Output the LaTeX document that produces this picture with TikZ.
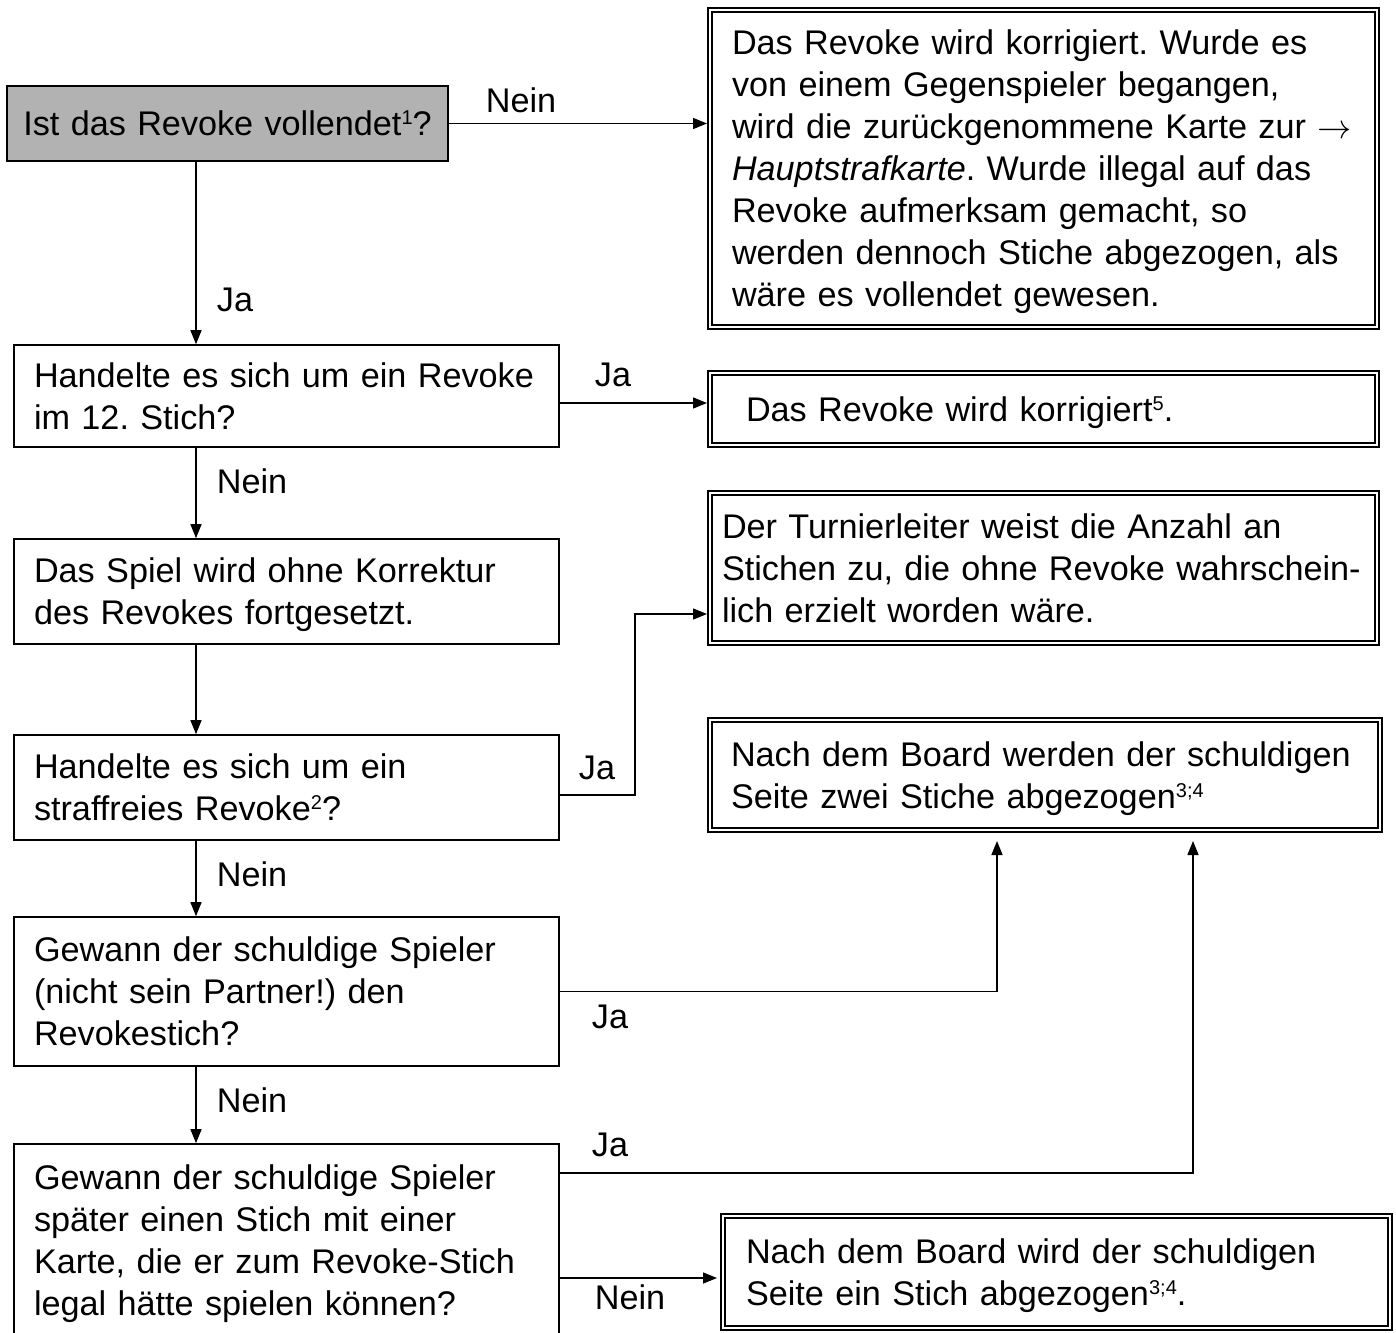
\RequirePackage{fix-cm}
\documentclass[tikz,border=0pt]{standalone}
\usepackage{fontspec}
\setmainfont{Liberation Sans}
\usepackage{tikz}
\usetikzlibrary{arrows.meta,positioning,calc}

\frenchspacing
\newcommand{\hoch}[1]{\raisebox{11pt}{\fontsize{20}{20}\selectfont #1}}
\newcommand{\zeile}{\rule[-8.6pt]{0pt}{42pt}}

\begin{document}
\begin{tikzpicture}[
    x=1pt, y=-1pt,
    every node/.style={font=\fontsize{34.2}{42}\selectfont},
    frage/.style={
        draw,
        line width=1.6pt,
        align=left,
        inner xsep=20pt,
        inner ysep=0pt,
        text width=505pt,
        minimum width=545pt,
        execute at begin node=\zeile,
        execute at end node=\zeile
    },
    ergebnis/.style={
        draw,
        double,
        double distance=2.5pt,
        line width=1.8pt,
        outer sep=3pt,
        align=left,
        inner ysep=0pt,
        minimum width=667pt,
        execute at begin node=\zeile,
        execute at end node=\zeile
    },
    pfeil/.style={-{Triangle[length=14pt,width=11pt]}, line width=1.4pt},
    marke/.style={inner sep=0pt}
]
\useasboundingbox (0,0) rectangle (1396,1332);

% -------- Fragen (links) --------
\node[frage, fill=black!30, align=center, minimum width=441pt, text width=421pt,
      inner xsep=10pt, minimum height=75pt] (vollendet) at (227.5,123.5)
    {Ist das Revoke vollendet\hoch{1}?};
\node[frage, minimum height=102pt] (zwoelf) at (286.5,396)
    {Handelte es sich um ein Revoke\\im 12. Stich?};
\node[frage, minimum height=105pt] (weiter) at (286.5,591.5)
    {Das Spiel wird ohne Korrektur\\des Revokes fortgesetzt.};
\node[frage, minimum height=105pt] (straffrei) at (286.5,787.5)
    {Handelte es sich um ein\\straffreies Revoke\hoch{2}?};
\node[frage, minimum height=149pt] (gewann) at (286.5,991.5)
    {Gewann der schuldige Spieler\\(nicht sein Partner!) den\\Revokestich?};
\node[frage, minimum height=193pt] (spaeter) at (286.5,1240.5)
    {Gewann der schuldige Spieler\\sp\"ater einen Stich mit einer\\Karte, die er zum Revoke-Stich\\legal h\"atte spielen k\"onnen?};

% -------- Folgen (rechts) --------
\node[ergebnis, minimum height=317pt, inner xsep=22pt, text width=623pt] (korrigiert) at (1043.5,168.5)
    {Das Revoke wird korrigiert. Wurde es\\von einem Gegenspieler begangen,\\wird die zur\"uckgenommene Karte zur $\rightarrow$\\\textit{Hauptstrafkarte}. Wurde illegal auf das\\Revoke aufmerksam gemacht, so\\werden dennoch Stiche abgezogen, als\\w\"are es vollendet gewesen.};
\node[ergebnis, minimum height=72pt, inner xsep=36pt, text width=595pt] (korr) at (1043.5,409)
    {Das Revoke wird korrigiert\hoch{5}.};
\node[ergebnis, minimum height=150pt, inner xsep=12pt, text width=643pt] (tl) at (1043.5,568)
    {Der Turnierleiter weist die Anzahl an\\Stichen zu, die ohne Revoke wahrschein-\\lich erzielt worden w\"are.};
\node[ergebnis, minimum width=670pt, minimum height=110pt, inner xsep=21pt, text width=628pt] (zwei) at (1045,775)
    {Nach dem Board werden der schuldigen\\Seite zwei Stiche abgezogen\hoch{3;4}};
\node[ergebnis, minimum height=112pt, inner xsep=23pt, text width=621pt] (einer) at (1056.5,1272)
    {Nach dem Board wird der schuldigen\\Seite ein Stich abgezogen\hoch{3;4}.};

% -------- Pfeile --------
\coordinate (achse) at (196,0);
\draw[pfeil] (vollendet.east) -- (vollendet.east -| korrigiert.west);
\draw[pfeil] (vollendet.south -| achse) -- (zwoelf.north -| achse);
\draw[pfeil] ([yshift=-7pt]zwoelf.east) -- ([yshift=-7pt]zwoelf.east -| korr.west);
\draw[pfeil] (zwoelf.south -| achse) -- (weiter.north -| achse);
\draw[pfeil] (weiter.south -| achse) -- (straffrei.north -| achse);
\draw[pfeil] ([yshift=-7.5pt]straffrei.east) -- ++(75,0) |- ([yshift=-46pt]tl.west);
\draw[pfeil] (straffrei.south -| achse) -- (gewann.north -| achse);
\draw[pfeil, shorten >=8pt] (gewann.east) -| ([xshift=-48pt]zwei.south);
\draw[pfeil] (gewann.south -| achse) -- (spaeter.north -| achse);
\draw[pfeil, shorten >=8pt] ([yshift=67.5pt]spaeter.east) -| ([xshift=148pt]zwei.south);
\draw[pfeil, shorten >=3pt] ([yshift=-37.5pt]spaeter.east) -- ([yshift=-37.5pt]spaeter.east -| einer.west);

% -------- Beschriftungen --------
\node[marke] (n1) at (521,100) {Nein};
\node[marke] (j1) at (235,300) {Ja};
\node[marke] (j2) at (613,375) {Ja};
\node[marke] (n2) at (252,481) {Nein};
\node[marke] (j3) at (597,768) {Ja};
\node[marke] (n3) at (252,874) {Nein};
\node[marke] (j4) at (610,1017) {Ja};
\node[marke] (n4) at (252,1100) {Nein};
\node[marke] (j5) at (610,1145) {Ja};
\node[marke] (n5) at (630,1297) {Nein};

\end{tikzpicture}
\end{document}
